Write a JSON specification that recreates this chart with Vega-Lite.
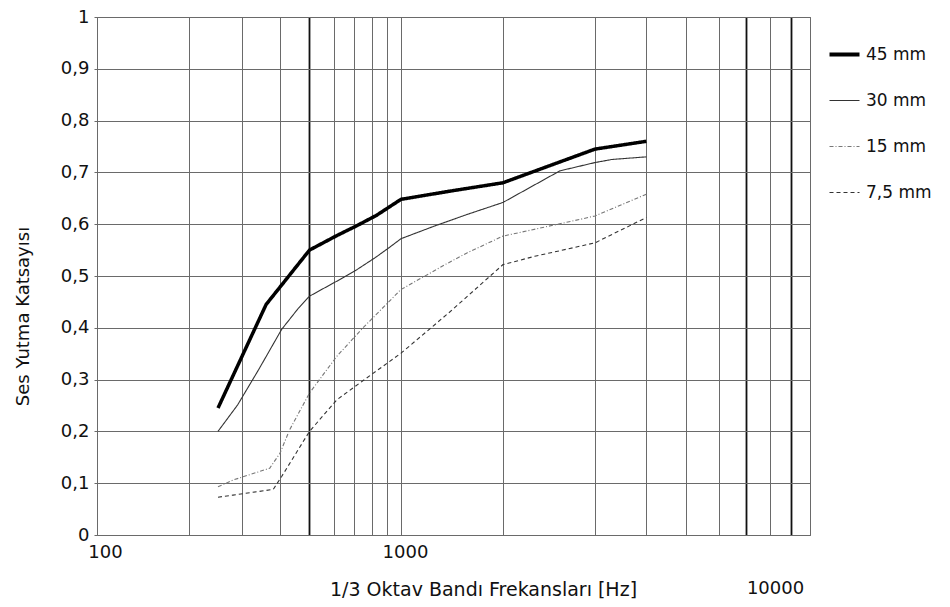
{
  "$schema": "https://vega.github.io/schema/vega-lite/v6.json",
  "width": 713,
  "height": 518,
  "autosize": {"type": "none"},
  "padding": {"left": 97, "top": 17, "right": 140, "bottom": 72},
  "background": "white",
  "config": {"view": {"stroke": "#666", "strokeWidth": 1}, "font": "DejaVu Sans"},
  "data": {"values": [
    {"f": 250, "a": 0.245, "series": "45 mm"},
    {"f": 360, "a": 0.445, "series": "45 mm"},
    {"f": 500, "a": 0.55, "series": "45 mm"},
    {"f": 615, "a": 0.578, "series": "45 mm"},
    {"f": 715, "a": 0.597, "series": "45 mm"},
    {"f": 830, "a": 0.617, "series": "45 mm"},
    {"f": 1000, "a": 0.648, "series": "45 mm"},
    {"f": 1400, "a": 0.664, "series": "45 mm"},
    {"f": 2000, "a": 0.68, "series": "45 mm"},
    {"f": 3000, "a": 0.745, "series": "45 mm"},
    {"f": 4000, "a": 0.76, "series": "45 mm"},
    {"f": 250, "a": 0.2, "series": "30 mm"},
    {"f": 290, "a": 0.251, "series": "30 mm"},
    {"f": 340, "a": 0.319, "series": "30 mm"},
    {"f": 405, "a": 0.397, "series": "30 mm"},
    {"f": 460, "a": 0.438, "series": "30 mm"},
    {"f": 500, "a": 0.461, "series": "30 mm"},
    {"f": 615, "a": 0.49, "series": "30 mm"},
    {"f": 715, "a": 0.512, "series": "30 mm"},
    {"f": 830, "a": 0.537, "series": "30 mm"},
    {"f": 920, "a": 0.556, "series": "30 mm"},
    {"f": 1000, "a": 0.572, "series": "30 mm"},
    {"f": 1250, "a": 0.596, "series": "30 mm"},
    {"f": 1570, "a": 0.619, "series": "30 mm"},
    {"f": 2000, "a": 0.642, "series": "30 mm"},
    {"f": 2570, "a": 0.703, "series": "30 mm"},
    {"f": 3000, "a": 0.719, "series": "30 mm"},
    {"f": 3300, "a": 0.725, "series": "30 mm"},
    {"f": 4000, "a": 0.73, "series": "30 mm"},
    {"f": 250, "a": 0.093, "series": "15 mm"},
    {"f": 280, "a": 0.106, "series": "15 mm"},
    {"f": 370, "a": 0.129, "series": "15 mm"},
    {"f": 400, "a": 0.158, "series": "15 mm"},
    {"f": 430, "a": 0.203, "series": "15 mm"},
    {"f": 500, "a": 0.274, "series": "15 mm"},
    {"f": 615, "a": 0.345, "series": "15 mm"},
    {"f": 750, "a": 0.4, "series": "15 mm"},
    {"f": 1000, "a": 0.474, "series": "15 mm"},
    {"f": 1350, "a": 0.522, "series": "15 mm"},
    {"f": 1570, "a": 0.545, "series": "15 mm"},
    {"f": 2000, "a": 0.577, "series": "15 mm"},
    {"f": 2800, "a": 0.609, "series": "15 mm"},
    {"f": 3000, "a": 0.616, "series": "15 mm"},
    {"f": 4000, "a": 0.658, "series": "15 mm"},
    {"f": 250, "a": 0.073, "series": "7,5 mm"},
    {"f": 280, "a": 0.077, "series": "7,5 mm"},
    {"f": 380, "a": 0.088, "series": "7,5 mm"},
    {"f": 405, "a": 0.113, "series": "7,5 mm"},
    {"f": 500, "a": 0.2, "series": "7,5 mm"},
    {"f": 615, "a": 0.261, "series": "7,5 mm"},
    {"f": 730, "a": 0.293, "series": "7,5 mm"},
    {"f": 1000, "a": 0.351, "series": "7,5 mm"},
    {"f": 1390, "a": 0.43, "series": "7,5 mm"},
    {"f": 2000, "a": 0.522, "series": "7,5 mm"},
    {"f": 2300, "a": 0.538, "series": "7,5 mm"},
    {"f": 3000, "a": 0.564, "series": "7,5 mm"},
    {"f": 4000, "a": 0.613, "series": "7,5 mm"}
  ]},
  "mark": {"type": "line", "clip": true},
  "encoding": {
    "x": {
      "field": "f",
      "type": "quantitative",
      "scale": {"type": "log", "domain": [100, 1000, 2000, 3000, 10000], "range": [0, 304, 406, 498, 713], "nice": false},
      "axis": {
        "values": [100, 200, 300, 400, 500, 600, 700, 800, 900, 1000, 2000, 3000, 4000, 5000, 6000, 7000, 8000, 9000, 10000],
        "labelExpr": "(datum.value == 100 || datum.value == 1000 || datum.value == 10000) ? format(datum.value, 'd') : ''",
        "ticks": false,
        "domain": false,
        "labelFont": "DejaVu Sans",
        "labelFontSize": 18,
        "labelColor": "#111",
        "labelOverlap": false,
        "labelBound": false,
        "labelFlush": false,
        "labelBaseline": "top",
        "labelPadding": {"condition": {"test": "datum.value == 10000", "value": 44}, "value": 8},
        "labelOffset": {"condition": [{"test": "datum.value == 100", "value": 8}, {"test": "datum.value == 10000", "value": -35}], "value": 4},
        "gridColor": {"condition": {"test": "datum.value == 500 || datum.value == 7000 || datum.value == 9000", "value": "#111"}, "value": "#6a6a6a"},
        "gridWidth": {"condition": {"test": "datum.value == 500 || datum.value == 7000 || datum.value == 9000", "value": 1.8}, "value": 1},
        "title": "1/3 Oktav Bandı Frekansları [Hz]",
        "titleFont": "DejaVu Sans",
        "titleFontSize": 19,
        "titleFontWeight": "normal",
        "titleColor": "#111",
        "titleX": 386,
        "titleY": 54,
        "titleBaseline": "middle",
        "titleAlign": "center"
      }
    },
    "y": {
      "field": "a",
      "type": "quantitative",
      "scale": {"domain": [0, 1], "nice": false},
      "axis": {
        "values": [0, 0.1, 0.2, 0.3, 0.4, 0.5, 0.6, 0.7, 0.8, 0.9, 1],
        "labelExpr": "replace(format(datum.value, '.1~f'), '.', ',')",
        "domain": false,
        "tickSize": 3,
        "tickColor": "#6a6a6a",
        "labelPadding": 5,
        "labelFont": "DejaVu Sans",
        "labelFontSize": 18,
        "labelColor": "#111",
        "gridColor": "#6a6a6a",
        "gridWidth": 1,
        "title": "Ses Yutma Katsayısı",
        "titleFont": "DejaVu Sans",
        "titleFontSize": 18,
        "titleFontWeight": "normal",
        "titleColor": "#111",
        "titleAngle": 270,
        "titleX": -74,
        "titleY": 299,
        "titleBaseline": "middle",
        "titleAlign": "center"
      }
    },
    "color": {
      "field": "series",
      "type": "nominal",
      "scale": {"domain": ["45 mm", "30 mm", "15 mm", "7,5 mm"], "range": ["#000000", "#333333", "#777777", "#333333"]},
      "legend": {
        "title": null,
        "orient": "none",
        "legendX": 739,
        "legendY": 29,
        "padding": 0,
        "symbolType": "stroke",
        "symbolSize": 900,
        "rowPadding": 28,
        "labelOffset": 13,
        "labelFont": "DejaVu Sans",
        "labelFontSize": 17,
        "labelColor": "#111",
        "encode": {"symbols": {"update": {"strokeWidth": {"signal": "datum.value === '45 mm' ? 4 : 1.2"}}}}
      }
    },
    "strokeDash": {
      "field": "series",
      "type": "nominal",
      "scale": {"domain": ["45 mm", "30 mm", "15 mm", "7,5 mm"], "range": [[1, 0], [1, 0], [4, 2, 1, 2], [4, 3]]},
      "legend": {
        "title": null,
        "orient": "none",
        "legendX": 739,
        "legendY": 29,
        "padding": 0,
        "symbolType": "stroke",
        "symbolSize": 900,
        "rowPadding": 28,
        "labelOffset": 13,
        "labelFont": "DejaVu Sans",
        "labelFontSize": 17,
        "labelColor": "#111",
        "encode": {"symbols": {"update": {"strokeWidth": {"signal": "datum.value === '45 mm' ? 4 : 1.2"}}}}
      }
    },
    "strokeWidth": {"condition": {"test": "datum.series === '45 mm'", "value": 3.5}, "value": 1.1}
  }
}
